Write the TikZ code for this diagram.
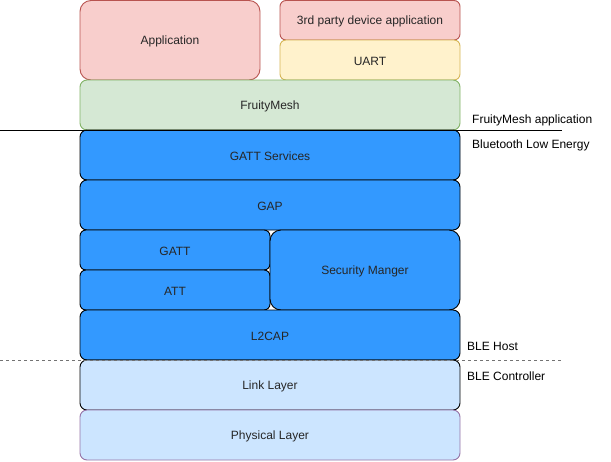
\documentclass[tikz,border=0pt]{standalone}
\usepackage{fontspec}
\setmainfont{Liberation Sans}
\begin{document}
\begin{tikzpicture}[x=1pt,y=-1pt,
  lay/.style={draw=black, line width=0.9pt, rounded corners=7pt, fill=bleblue},
  lbl/.style={anchor=west, font=\fontsize{12}{14}\selectfont, inner sep=0pt},
  btxt/.style={font=\fontsize{12}{14}\selectfont, text=black!85, yshift=-1.5pt}]
\definecolor{bleblue}{HTML}{3399FF}
\definecolor{redf}{HTML}{F8CECC}\definecolor{redd}{HTML}{B85450}
\definecolor{yelf}{HTML}{FFF2CC}\definecolor{yeld}{HTML}{D6B656}
\definecolor{grnf}{HTML}{D5E8D4}\definecolor{grnd}{HTML}{82B366}
\definecolor{lbf}{HTML}{CCE5FF}\definecolor{purd}{HTML}{9673A6}
\useasboundingbox (0,0) rectangle (611,461);
% boxes
\draw[lay, fill=redf, draw=redd, rounded corners=11pt] (80,0.5) rectangle (260,80) node[pos=.5, btxt] (app) {Application};
\draw[lay, fill=redf, draw=redd, rounded corners=6pt] (280,0.5) rectangle (460,40) node[pos=.5, btxt] (third) {3rd party device application};
\draw[lay, fill=yelf, draw=yeld, rounded corners=6pt] (280,40) rectangle (460,80) node[pos=.5, btxt] (uart) {UART};
\draw[lay, fill=grnf, draw=grnd] (80,80) rectangle (460,130) node[pos=.5, btxt] (fm) {FruityMesh};
\draw[lay] (80,130) rectangle (460,180) node[pos=.5, btxt] (gs) {GATT Services};
\draw[lay] (80,180) rectangle (460,230) node[pos=.5, btxt] (gap) {GAP};
\draw[lay, rounded corners=6pt] (80,230) rectangle (270,270) node[pos=.5, btxt] (gatt) {GATT};
\draw[lay, rounded corners=6pt] (80,270) rectangle (270,310) node[pos=.5, btxt] (att) {ATT};
\draw[lay, rounded corners=11pt] (270,230) rectangle (460,310) node[pos=.5, btxt] (sm) {Security Manger};
\draw[lay] (80,310) rectangle (460,360) node[pos=.5, btxt] (l2) {L2CAP};
\draw[lay, fill=lbf] (80,360) rectangle (460,410) node[pos=.5, btxt] (ll) {Link Layer};
\draw[lay, fill=lbf, draw=purd] (80,410) rectangle (460,460) node[pos=.5, btxt] (pl) {Physical Layer};
% separators
\coordinate (s1a) at (0,130); \coordinate (s1b) at (562,130);
\draw[line width=0.9pt] (s1a) -- (s1b);
\coordinate (s2a) at (0,360); \coordinate (s2b) at (562,360);
\draw[line width=0.9pt, draw=black!55, dash pattern=on 3pt off 3pt] (s2a) -- (s2b);
% labels
\node[lbl] (l1) at (472,120) {FruityMesh application};
\node[lbl] (l2t) at (472,145) {Bluetooth Low Energy};
\node[lbl] (l3) at (467,346) {BLE Host};
\node[lbl] (l4) at (467,376) {BLE Controller};
\end{tikzpicture}
\end{document}
